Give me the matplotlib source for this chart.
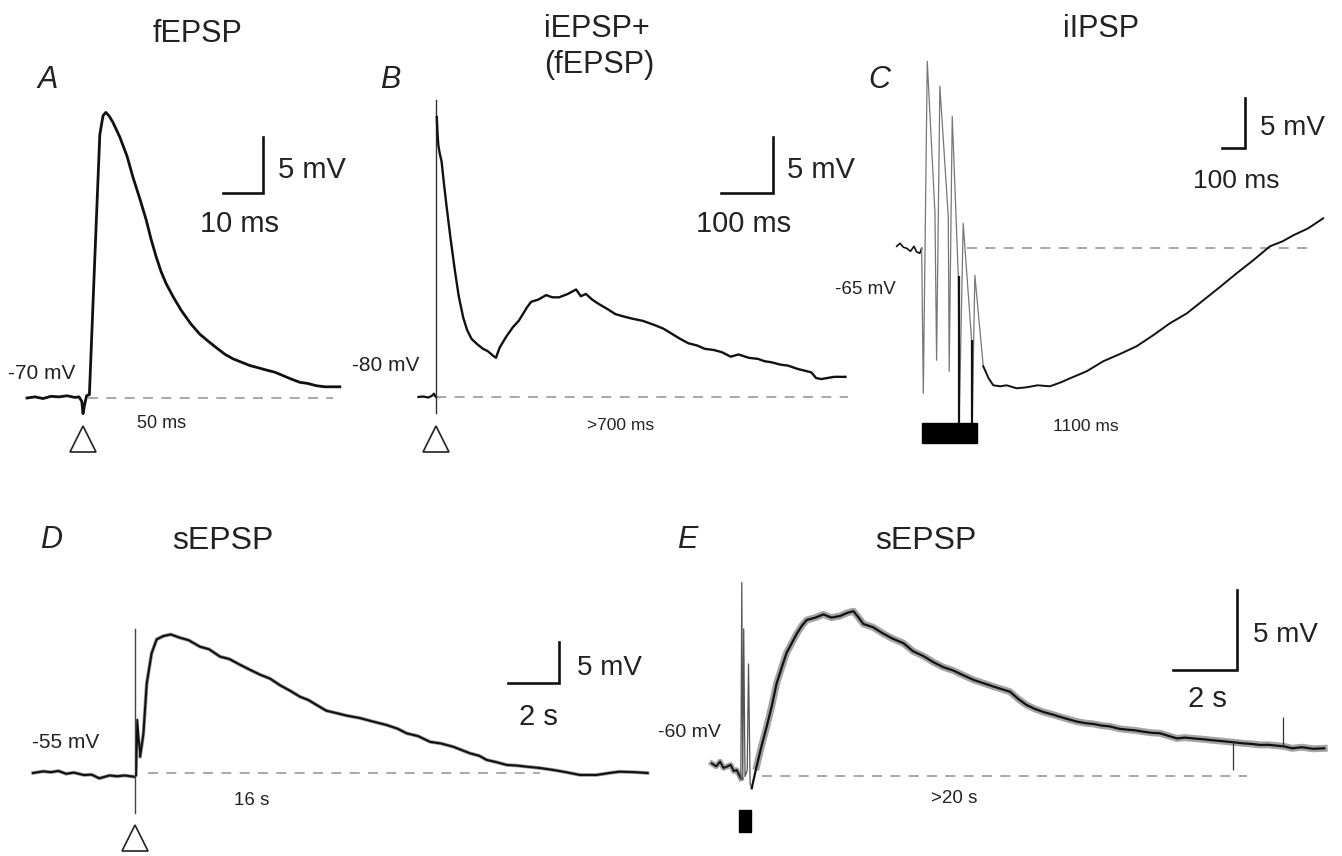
import matplotlib
matplotlib.use('Agg')
import matplotlib.pyplot as plt
from matplotlib.patches import Rectangle

plt.rcParams['font.family'] = ['Liberation Sans', 'DejaVu Sans']

W, H = 1342, 856

# ---- A: fEPSP (ms, mV relative to -70 mV) ----
a_t = [-14, -12, -10, -8, -6, -4, -2, -1, -0.3, 0, 0.4, 0.9, 1.6, 2.9, 4.2, 5.0, 5.7, 6.5,
       7.5, 9.2, 11.0, 12.5, 14.2, 15.8, 17.0, 18.3, 19.5, 20.8, 22.6, 24.6, 27.0, 29.2, 31.2,
       33.3, 35.5, 37.5, 39.6, 41.7, 43.8, 45.8, 48.0, 50.0, 52.0, 54.2, 56.2, 58.3, 60.4, 62.5, 64.2]
a_v = [0, 0.1, -0.05, 0.15, 0.1, 0.2, 0.05, 0.1, -0.3, -1.4, -0.6, 0.2, 0.3, 12.0, 23.5, 25.2, 25.5, 25.2,
       24.6, 23.3, 21.6, 19.7, 17.8, 15.9, 14.2, 12.6, 11.3, 10.2, 9.0, 7.8, 6.6, 5.7, 5.1,
       4.5, 3.9, 3.5, 3.2, 2.9, 2.7, 2.5, 2.3, 2.0, 1.7, 1.4, 1.3, 1.1, 1.0, 1.0, 1.0]

# ---- B: iEPSP + (fEPSP) (ms, mV relative to -80 mV) ----
b_pre_t = [-34, -25, -15, -8, -4, -2, 0]
b_pre_v = [0, 0.05, -0.05, 0.1, 0.3, 0.1, 0]
b_art_v = [-1.4, 26.5]
b_t = [1.5, 3, 4.5, 7, 10.9, 15, 20.5, 28, 36.5, 44,
       52.6, 60, 68.6, 80, 91, 100, 110, 116, 123, 136,
       149, 160, 168, 176, 184, 198, 213, 225, 238, 255,
       271, 280, 290, 302, 315, 330, 347, 362, 379, 400,
       424, 440, 456, 472, 488, 505, 520, 537, 553, 570,
       585, 605, 623, 635, 649, 665, 681, 700, 726, 735,
       745, 770, 792]
b_v = [25.0, 23.5, 22.5, 21.8, 21.0, 19.2, 17.0, 14.2, 11.3, 9.0,
       7.1, 6.0, 5.2, 4.7, 4.3, 4.1, 3.7, 3.5, 4.4, 5.4,
       6.25, 6.8, 7.4, 8.0, 8.5, 8.7, 9.1, 8.9, 8.9, 9.2,
       9.6, 9.0, 9.2, 8.7, 8.3, 7.9, 7.4, 7.2, 7.0, 6.8,
       6.4, 6.1, 5.65, 5.2, 4.8, 4.6, 4.3, 4.2, 4.0, 3.6,
       3.8, 3.5, 3.4, 3.2, 3.1, 2.9, 2.8, 2.5, 2.2, 1.7,
       1.6, 1.8, 1.8]

# ---- C: iIPSP (ms, mV relative to -65 mV) ----
c_pre_t = [-114, -100, -85, -71, -55, -40, -29, -15, -7]
c_pre_v = [0.2, 0.5, 0.1, 0.0, -0.3, 0.2, -0.35, -0.5, 0.0]
c_spk_t = [-7, 0, 17, 50, 57, 71, 107, 111, 124, 150, 154, 171, 207, 210, 221, 257]
c_spk_v = [0, -14.5, 18.7, 3.5, -11.2, 16.2, 3.2, -12.3, 13.2, -2.8, -17.2, 2.5, -9.2, -17.2, -2.7, -11.8]
c_art_t = [154, 210]
c_art_v = [-2.8, -9.2]
c_t = [257, 280, 300, 330, 357, 400, 443, 490, 543, 590, 629, 700, 771, 840,
       914, 985, 1057, 1130, 1200, 1270, 1343, 1414, 1486, 1540, 1586, 1650, 1714]
c_v = [-11.8, -13.0, -13.7, -13.8, -13.7, -14.0, -13.9, -13.7, -13.8, -13.4, -13.0, -12.3, -11.3, -10.6,
       -9.8, -8.7, -7.5, -6.5, -5.2, -3.9, -2.5, -1.2, 0.2, 0.7, 1.3, 2.0, 3.0]

# ---- D: sEPSP (s, mV relative to -55 mV) ----
d_pre_t = [-4.0, -3.6, -3.3, -3.0, -2.7, -2.4, -2.0, -1.7, -1.4, -1.0, -0.7, -0.4, -0.05]
d_pre_v = [0.0, 0.2, 0.1, 0.25, -0.1, 0.05, -0.25, -0.2, -0.65, -0.3, -0.4, -0.3, -0.45]
d_art_v = [-4.9, 17.6]
d_t = [0.05, 0.09, 0.2, 0.33, 0.46, 0.65, 0.85, 1.11, 1.4, 1.76,
       2.1, 2.55, 2.9, 3.33, 3.7, 4.12, 4.5, 4.9, 5.3, 5.69,
       6.1, 6.47, 6.8, 7.12, 7.5, 7.91, 8.3, 8.82, 9.3, 9.87,
       10.3, 10.65, 11.1, 11.57, 12.0, 12.48, 13.14, 13.5, 13.79, 14.2,
       14.58, 15.0, 15.36, 15.9, 16.4, 16.9, 17.45, 18.1, 18.6, 19.0,
       19.6, 20.1]
d_v = [-0.3, 6.5, 2.0, 4.8, 10.9, 14.6, 16.3, 16.7, 16.9, 16.5,
       16.2, 15.4, 15.1, 14.2, 13.9, 13.2, 12.6, 12.0, 11.5, 10.7,
       10.0, 9.3, 8.9, 8.3, 7.6, 7.3, 7.0, 6.7, 6.3, 5.85,
       5.4, 4.84, 4.5, 3.8, 3.6, 3.2, 2.4, 2.1, 1.6, 1.3,
       0.98, 0.9, 0.77, 0.6, 0.37, 0.1, -0.24, -0.24, 0.0, 0.16,
       0.1, 0.0]

# ---- E: sEPSP (s, mV relative to -60 mV) ----
e_pre_t = [-1.04, -0.9, -0.78, -0.67, -0.57, -0.45, -0.35, -0.26, -0.13]
e_pre_v = [0.79, 0.6, 0.9, 0.5, 0.58, 0.7, 0.3, 0.375, -0.15]
e_spk_t = [-0.13, -0.1, -0.07, -0.04, 0.0, 0.07, 0.11, 0.16, 0.21]
e_spk_v = [-0.15, 12.1, -0.25, 9.2, -0.04, 0.375, 7.0, -0.46, -0.77]
e_t = [0.21, 0.36, 0.52, 0.68, 0.84, 0.99, 1.15, 1.3, 1.46, 1.62,
       1.78, 1.93, 2.2, 2.45, 2.7, 2.97, 3.2, 3.39, 3.55, 3.7,
       4.0, 4.32, 4.6, 4.95, 5.25, 5.57, 5.9, 6.2, 6.5, 6.82,
       7.15, 7.45, 7.75, 8.07, 8.28, 8.55, 8.8, 9.05, 9.32, 9.6,
       9.84, 10.1, 10.37, 10.65, 10.9, 11.15, 11.4, 11.7, 11.93, 12.2,
       12.45, 12.7, 12.97, 13.25, 13.5, 13.75, 14.0, 14.3, 14.53, 14.8,
       15.05, 15.3, 15.57, 15.85, 16.1, 16.35, 16.6, 16.85, 17.1, 17.4,
       17.75, 18.1]
e_v = [-0.77, 0.58, 1.9, 3.1, 4.4, 5.8, 6.8, 7.7, 8.3, 8.9,
       9.4, 9.75, 9.9, 10.1, 9.9, 10.0, 10.2, 10.3, 9.9, 9.5,
       9.3, 8.9, 8.6, 8.3, 7.8, 7.5, 7.1, 6.8, 6.6, 6.3,
       6.0, 5.8, 5.6, 5.4, 5.27, 4.8, 4.44, 4.2, 4.0, 3.85,
       3.7, 3.55, 3.4, 3.3, 3.25, 3.15, 3.1, 2.95, 2.9, 2.85,
       2.77, 2.7, 2.67, 2.5, 2.35, 2.4, 2.35, 2.3, 2.25, 2.2,
       2.15, 2.1, 2.04, 2.0, 1.94, 1.95, 1.9, 1.85, 1.73, 1.8,
       1.7, 1.73]
e_blip_t = [15.26, 16.8]
e_blip_lo = [0.375, 1.85]
e_blip_hi = [2.15, 3.7]

fig = plt.figure(figsize=(13.42, 8.56), dpi=100)


def panel(box, geo):
    # box in image pixels (left, top, right, bottom); geo = (stim_px, base_px, px per x unit, px per mV)
    left, top, right, bottom = box
    stim, base, pt, pv = geo
    ax = fig.add_axes([left / W, 1 - bottom / H, (right - left) / W, (bottom - top) / H])
    ax.set_xlim((left - stim) / pt, (right - stim) / pt)
    ax.set_ylim((base - bottom) / pv, (base - top) / pv)
    ax.axis('off')
    return ax


def to_data(geo, x, y):
    stim, base, pt, pv = geo
    return (x - stim) / pt, (base - y) / pv


def txt(x, y, s, size, ha='left', **kw):
    fig.text(x / W, 1 - y / H, s, fontsize=size, ha=ha, va='baseline', color='#222', **kw)


def scalebar(ax, geo, corner, dt, dv):
    cx, cy = to_data(geo, *corner)
    ax.plot([cx - dt, cx, cx], [cy, cy, cy + dv], color='#111', lw=1.9, solid_joinstyle='miter')


def dashed(ax, t0, t1):
    ax.plot([t0, t1], [0, 0], color='#999', lw=1.2, dashes=(6, 5))


def stim_triangle(ax, geo, x, y):
    tx, ty = to_data(geo, x, y)
    ax.plot([tx], [ty], marker='^', ms=19, mfc='white', mec='#222', mew=1.2, clip_on=False)


# panel A
geo_a = (83, 398, 4.0, 11.2)
ax = panel((0, 50, 345, 470), geo_a)
dashed(ax, 1.25, 62.5)
ax.plot(a_t, a_v, color='#111', lw=2.0)
scalebar(ax, geo_a, (263, 193), 10, 5)
stim_triangle(ax, geo_a, 83, 439)

# panel B
geo_b = (436, 397, 0.517, 11.2)
ax = panel((345, 50, 860, 470), geo_b)
dashed(ax, -35, 797)
ax.plot(b_pre_t, b_pre_v, color='#111', lw=1.6)
ax.plot([0, 0], b_art_v, color='#333', lw=1.0)
ax.plot(b_t, b_v, color='#111', lw=1.7)
scalebar(ax, geo_b, (773, 193), 100, 5)
stim_triangle(ax, geo_b, 436, 439)

# panel C
geo_c = (923.3, 248.3, 0.2333, 10.0)
ax = panel((860, 40, 1342, 470), geo_c)
dashed(ax, 187, 1671)
ax.plot(c_pre_t, c_pre_v, color='#111', lw=1.2)
ax.plot(c_spk_t, c_spk_v, color='#777', lw=0.9)
ax.vlines(c_art_t, -17.5, c_art_v, color='#111', lw=1.6)
ax.plot(c_t, c_v, color='#111', lw=1.4)
ax.add_patch(Rectangle((-5.6, -19.5), 235.6, 2.0, color='black'))
scalebar(ax, geo_c, (1245, 148), 100, 5)

# panel D
geo_d = (135, 773, 25.5, 8.2)
ax = panel((0, 560, 670, 856), geo_d)
dashed(ax, 0.5, 15.9)
ax.plot(d_pre_t, d_pre_v, color='#555', lw=2.6, alpha=0.6)
ax.plot(d_t[2:], d_v[2:], color='#555', lw=2.6, alpha=0.6)
ax.plot(d_pre_t, d_pre_v, color='#111', lw=1.5)
ax.plot([0, 0], d_art_v, color='#444', lw=1.0)
ax.plot(d_t, d_v, color='#111', lw=1.5)
scalebar(ax, geo_d, (559, 683), 2, 5)
stim_triangle(ax, geo_d, 135, 838)

# panel E
geo_e = (745, 776, 32.0, 16.0)
ax = panel((670, 560, 1342, 856), geo_e)
dashed(ax, 0.53, 15.7)
ax.plot(e_pre_t, e_pre_v, color='#666', lw=4.0, alpha=0.6)
ax.plot(e_t[1:], e_v[1:], color='#666', lw=5.0, alpha=0.6)
ax.plot(e_pre_t, e_pre_v, color='#111', lw=1.4)
ax.plot(e_spk_t, e_spk_v, color='#555', lw=0.9)
ax.plot(e_t, e_v, color='#111', lw=1.6)
ax.vlines(e_blip_t, e_blip_lo, e_blip_hi, color='#333', lw=0.9)
ax.add_patch(Rectangle((-0.19, -3.5), 0.38, 1.4, color='black'))
scalebar(ax, geo_e, (1237, 670), 2, 5)

# titles and panel letters
txt(197, 42, 'fEPSP', 22, ha='center')
txt(597, 37, 'iEPSP+', 22, ha='center')
txt(599, 73, '(fEPSP)', 22, ha='center')
txt(1101, 37, 'iIPSP', 22, ha='center')
txt(223, 549, 'sEPSP', 23, ha='center')
txt(926, 549, 'sEPSP', 23, ha='center')
for lx, ly, s in [(38, 88, 'A'), (380, 88, 'B'), (868, 88, 'C'), (40, 548, 'D'), (677, 548, 'E')]:
    txt(lx, ly, s, 22, style='italic')

# scale bar labels
txt(278, 178, '5 mV', 21)
txt(239, 232, '10 ms', 21, ha='center')
txt(787, 178, '5 mV', 21)
txt(744, 232, '100 ms', 21, ha='center')
txt(1260, 135, '5 mV', 20)
txt(1236, 188, '100 ms', 19, ha='center')
txt(577, 675, '5 mV', 20)
txt(538, 725, '2 s', 21, ha='center')
txt(1253, 642, '5 mV', 20)
txt(1207, 707, '2 s', 21, ha='center')

# resting potentials and durations
txt(8, 379, '-70 mV', 15)
txt(162, 428, '50 ms', 13, ha='center')
txt(352, 371, '-80 mV', 15)
txt(621, 430, '>700 ms', 12.5, ha='center')
txt(835, 294, '-65 mV', 13.5)
txt(1086, 431, '1100 ms', 12.5, ha='center')
txt(32, 748, '-55 mV', 15)
txt(252, 805, '16 s', 13.5, ha='center')
txt(658, 737, '-60 mV', 14)
txt(954, 803, '>20 s', 13.5, ha='center')

fig.savefig('out.png', dpi=100, facecolor='white')
